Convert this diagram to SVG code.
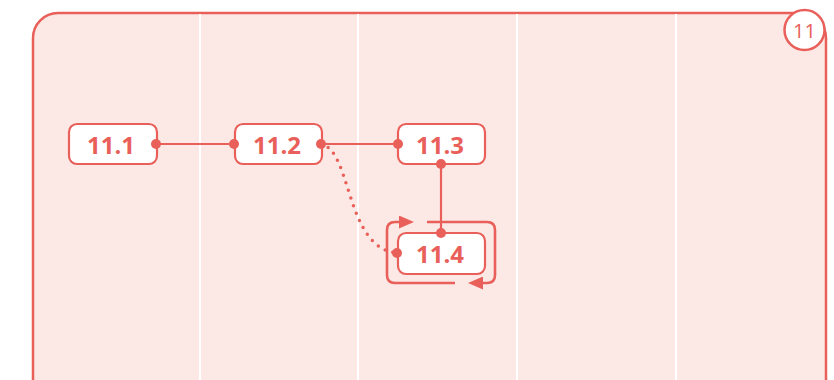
<svg xmlns="http://www.w3.org/2000/svg" width="834" height="380" viewBox="0 0 834 380">
<defs>
<style>
.frame{fill:#FCE9E6;stroke:#E9605A;stroke-width:2.5}
.div{stroke:#FFFFFF;stroke-width:2}
.node rect{fill:#FFFFFF;stroke:#E9605A;stroke-width:2.2}
.node text{font-family:"Open Sans","Noto Sans",sans-serif;font-weight:bold;font-size:24px;fill:#E9605A;text-anchor:middle}
.edge{fill:none;stroke:#E9605A;stroke-width:2.2}
.loop{fill:none;stroke:#E9605A;stroke-width:2.6}
.dot{fill:#E9605A}
.dotted{fill:none;stroke:#E9605A;stroke-width:3.5;stroke-dasharray:0 8;stroke-linecap:round}
.badge{fill:#FFFFFF;stroke:#E9605A;stroke-width:2.5}
.badgetext{font-family:"Open Sans","Noto Sans",sans-serif;font-size:20px;fill:#E9605A;text-anchor:middle}
</style>
<marker id="arr" viewBox="0 0 15 13" refX="2" refY="6.5" markerWidth="15" markerHeight="13" markerUnits="userSpaceOnUse" orient="auto">
<path d="M0,0 L15,6.5 L0,13 Z" fill="#E9605A"/>
</marker>
</defs>
<g id="frame">
<rect class="frame" x="33" y="13" width="793" height="400" rx="25"/>
<line class="div" x1="200" y1="14" x2="200" y2="380"/>
<line class="div" x1="358" y1="14" x2="358" y2="380"/>
<line class="div" x1="517" y1="14" x2="517" y2="380"/>
<line class="div" x1="676" y1="14" x2="676" y2="380"/>
</g>
<g id="badge">
<circle class="badge" cx="804.5" cy="30" r="20"/>
<text class="badgetext" x="804.5" y="38">11</text>
</g>
<g id="connectors">
<line class="edge" x1="156" y1="144" x2="234" y2="144"/>
<line class="edge" x1="321" y1="144" x2="398" y2="144"/>
<line class="edge" x1="441" y1="164" x2="441" y2="233"/>
<path class="dotted" d="M321,144 C352,150 345,248 397,253"/>
<path class="loop" d="M427,222 H487 Q495,222 495,230 V275 Q495,283 487,283 H481" marker-end="url(#arr)"/>
<path class="loop" d="M455,283 H395 Q387,283 387,275 V230 Q387,222 395,222 H401" marker-end="url(#arr)"/>
</g>
<g id="n11_1" class="node">
<rect x="69" y="124" width="88" height="40" rx="8"/>
<text x="111" y="154">11.1</text>
</g>
<g id="n11_2" class="node">
<rect x="235" y="124" width="87" height="40" rx="8"/>
<text x="277" y="154">11.2</text>
</g>
<g id="n11_3" class="node">
<rect x="398" y="124" width="87" height="40" rx="8"/>
<text x="440" y="154">11.3</text>
</g>
<g id="n11_4" class="node">
<rect x="398" y="233" width="87" height="41" rx="8"/>
<text x="440" y="263">11.4</text>
</g>
<g id="dots">
<circle class="dot" cx="156" cy="144" r="5"/>
<circle class="dot" cx="234" cy="144" r="5"/>
<circle class="dot" cx="321" cy="144" r="5"/>
<circle class="dot" cx="398" cy="144" r="5"/>
<circle class="dot" cx="441" cy="164" r="5"/>
<circle class="dot" cx="441" cy="233" r="5"/>
<circle class="dot" cx="397" cy="253" r="5"/>
</g>
</svg>
